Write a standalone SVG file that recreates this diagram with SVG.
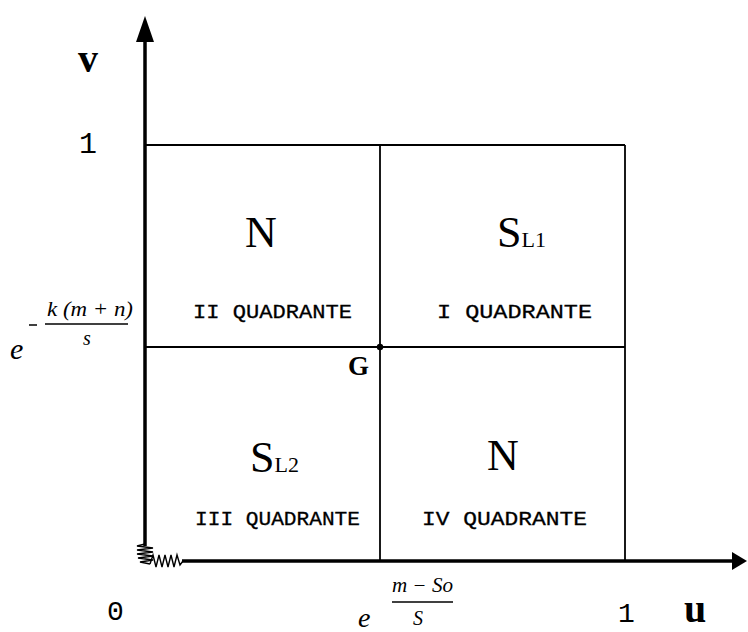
<svg xmlns="http://www.w3.org/2000/svg" width="748" height="632" viewBox="0 0 748 632">
<style>
.axis{stroke:#000;stroke-width:3.5;fill:none}
.grid{stroke:#000;stroke-width:1.8;fill:none}
.spring{stroke:#000;stroke-width:1.4;fill:none}
.big{font-family:"Liberation Serif",serif;font-size:44px;fill:#000}
.sub{font-family:"Liberation Serif",serif;font-size:22px;fill:#000}
.quad{font-family:"Liberation Mono",monospace;font-size:20px;fill:#000;stroke:#000;stroke-width:0.3}
.num{font-family:"Liberation Mono",monospace;font-size:30px;fill:#000}
.var{font-family:"Liberation Serif",serif;font-weight:bold;font-size:40px;fill:#000}
.math{font-family:"Liberation Serif",serif;font-style:italic;font-size:20px;fill:#000}
.frac{stroke:#000;stroke-width:1.5}
</style>
<rect width="748" height="632" fill="#fff"/>
<g id="connectors">
  <line class="axis" x1="145" y1="40" x2="145" y2="546"/>
  <polygon points="145,16 154,42 136,42" fill="#000"/>
  <line class="axis" x1="182" y1="561" x2="734" y2="561"/>
  <polygon points="747,561 732,552 732,570" fill="#000"/>
  <path class="spring" d="M145,544 L137,546 L153,548 L137,550 L153,552 L137,554 L153,556 L138,558 L153,560 L140,562 L150,564"/>
  <path class="spring" d="M150,564 L153,555 L156,567 L159,555 L162,567 L165,555 L168,567 L171,555 L174,567 L177,555 L180,565 L183,561"/>
  <line class="grid" x1="145" y1="145" x2="625" y2="145"/>
  <line class="grid" x1="625" y1="145" x2="625" y2="561"/>
  <line class="grid" x1="380" y1="145" x2="380" y2="561"/>
  <line class="grid" x1="145" y1="347" x2="625" y2="347"/>
  <circle cx="380" cy="347" r="3.2" fill="#000"/>
</g>
<g id="quadrant-II">
  <text class="big" x="261" y="247" text-anchor="middle">N</text>
  <text class="quad" x="193" y="318" textLength="159" lengthAdjust="spacingAndGlyphs">II QUADRANTE</text>
</g>
<g id="quadrant-I">
  <text x="497" y="247"><tspan class="big">S</tspan><tspan class="sub">L1</tspan></text>
  <text class="quad" x="437" y="318" textLength="155" lengthAdjust="spacingAndGlyphs">I QUADRANTE</text>
</g>
<g id="quadrant-III">
  <text x="250" y="472"><tspan class="big">S</tspan><tspan class="sub">L2</tspan></text>
  <text class="quad" x="195" y="525" textLength="165" lengthAdjust="spacingAndGlyphs">III QUADRANTE</text>
</g>
<g id="quadrant-IV">
  <text class="big" x="503" y="470" text-anchor="middle">N</text>
  <text class="quad" x="422" y="525" textLength="165" lengthAdjust="spacingAndGlyphs">IV QUADRANTE</text>
</g>
<g id="point-G">
  <text x="348" y="375" font-family="Liberation Serif,serif" font-weight="bold" font-size="27" fill="#000">G</text>
</g>
<g id="labels">
  <text class="var" x="78" y="72">v</text>
  <text class="var" x="684" y="622">u</text>
  <text class="num" x="79" y="153">1</text>
  <text class="num" x="107" y="620" style="font-size:28px">0</text>
  <text class="num" x="618" y="622" style="font-size:28px">1</text>
</g>
<g id="label-v-exp">
  <text class="math" x="10" y="359" style="font-size:30px">e</text>
  <line class="frac" x1="29" y1="325" x2="37" y2="325"/>
  <text class="math" x="47" y="316" textLength="86" lengthAdjust="spacingAndGlyphs">k (m + n)</text>
  <line class="frac" x1="45" y1="324" x2="128" y2="324"/>
  <text class="math" x="83" y="345">s</text>
</g>
<g id="label-u-exp">
  <text class="math" x="358" y="627" style="font-size:28px">e</text>
  <text class="math" x="392" y="592" textLength="61" lengthAdjust="spacingAndGlyphs">m − So</text>
  <line class="frac" x1="392" y1="602" x2="453" y2="602"/>
  <text class="math" x="413" y="625">S</text>
</g>
</svg>
